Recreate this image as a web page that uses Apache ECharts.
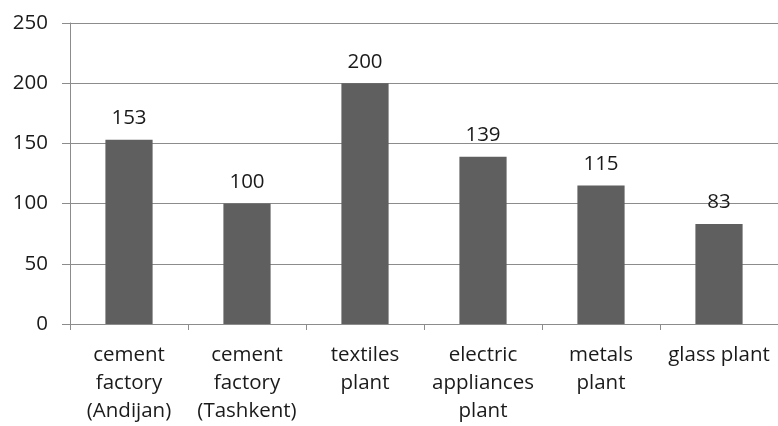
<!DOCTYPE html>
<html>
<head>
<meta charset="utf-8">
<script src="https://cdn.jsdelivr.net/npm/echarts@6/dist/echarts.min.js"></script>
<style>
  html, body { margin: 0; padding: 0; background: #fff; }
  #chart { width: 778px; height: 426px; }
</style>
</head>
<body>
<div id="chart"></div>
<script>
  // 数据
  const categories = [
    'cement\nfactory\n(Andijan)',
    'cement\nfactory\n(Tashkent)',
    'textiles\nplant',
    'electric\nappliances\nplant',
    'metals\nplant',
    'glass plant'
  ]
  const values = [153, 100, 200, 139, 115, 83]
  const yTicks = { min: 0, max: 250, interval: 50 }

  const font = '"Open Sans", sans-serif'
  const chart = echarts.init(document.getElementById('chart'))

  const options = {
    animation: false,
    grid: { left: 70, right: -8, top: 23, bottom: 102 },
    xAxis: {
      type: 'category',
      data: categories,
      axisLine: { lineStyle: { color: '#8c8c8c', width: 1 } },
      axisTick: { show: true, length: 6, lineStyle: { color: '#8c8c8c' } },
      axisLabel: {
        interval: 0,
        margin: 17,
        color: '#1a1a1a',
        fontFamily: font,
        fontSize: 20.5,
        lineHeight: 28
      }
    },
    yAxis: {
      type: 'value',
      min: yTicks.min,
      max: yTicks.max,
      interval: yTicks.interval,
      axisLine: { show: true, lineStyle: { color: '#8c8c8c', width: 1 } },
      axisTick: { show: true, length: 8, lineStyle: { color: '#8c8c8c' } },
      splitLine: { lineStyle: { color: '#8c8c8c', width: 1 } },
      axisLabel: {
        margin: 22,
        color: '#1a1a1a',
        fontFamily: font,
        fontSize: 20.5
      }
    },
    series: [
      {
        type: 'bar',
        data: values,
        barWidth: '40%',
        itemStyle: { color: '#5f5f5f' },
        label: {
          show: true,
          position: 'top',
          distance: 11,
          color: '#1a1a1a',
          fontFamily: font,
          fontSize: 20.5
        }
      }
    ]
  }
  chart.setOption(options)
</script>
</body>
</html>
